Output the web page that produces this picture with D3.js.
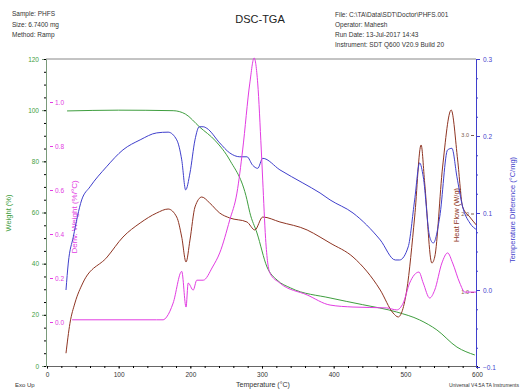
<!DOCTYPE html>
<html>
<head>
<meta charset="utf-8">
<script src="https://cdn.jsdelivr.net/npm/d3@7"></script>
<style>
  body { margin: 0; background: #fff; }
  svg { font-family: "Liberation Sans", Arial, sans-serif; }
</style>
</head>
<body>
<div id="chart"></div>
<script>
// [temperature °C, value]
const weight = [
  [28, 99.7], [100, 100], [176, 99.8], [193, 98.5], [213, 93.4], [235, 88], [255, 80.5],
  [279, 65], [283, 60], [293, 52], [307, 38.7], [321, 33.6], [340, 30.5], [395, 26.6],
  [440, 24], [488, 21.1], [520, 18], [544, 14.1], [572, 7.4], [597, 4.3]
];
const derivWeight = [
  [35, 0.01], [153, 0.01], [162, 0.01], [167, 0.023], [176, 0.086], [188, 0.23], [194, 0.068],
  [197, 0.177], [204, 0.145], [209, 0.19], [218, 0.19], [231, 0.25], [241, 0.314], [255, 0.464],
  [265, 0.586], [273, 0.782], [283, 1.086], [289, 1.2], [294, 1.086], [299, 0.782], [301, 0.645],
  [305, 0.38], [311, 0.223], [325, 0.177], [363, 0.123], [395, 0.077], [427, 0.068], [474, 0.064],
  [488, 0.055], [497, 0.086], [506, 0.177], [519, 0.227], [525, 0.177], [534, 0.109], [541, 0.145],
  [551, 0.268], [559, 0.314], [566, 0.268], [576, 0.177], [583, 0.136], [599, 0.136]
];
const tempDiff = [
  [26.5, 0.0], [29.7, 0.035], [36.7, 0.069], [48.4, 0.117], [60, 0.134], [83, 0.16], [106, 0.182],
  [130, 0.195], [153, 0.204], [169, 0.205], [181, 0.195], [188, 0.169], [193.5, 0.13], [199.5, 0.152],
  [206.5, 0.195], [212.5, 0.212], [218, 0.212], [223, 0.21], [241, 0.191], [255, 0.178], [269, 0.173],
  [279, 0.173], [287, 0.162], [294, 0.158], [301, 0.171], [325, 0.156], [357, 0.139], [381, 0.126],
  [395, 0.117], [427, 0.1], [465, 0.065], [486, 0.039], [492, 0.039], [504, 0.056], [513, 0.117],
  [520, 0.165], [525, 0.147], [534, 0.069], [539, 0.061], [548, 0.095], [559, 0.182], [565, 0.184],
  [572, 0.147], [580, 0.108], [590, 0.087], [600, 0.078]
];
const heatFlow = [
  [26.5, 0.22], [32, 0.6], [39, 0.86], [50, 1.115], [84, 1.446], [106, 1.7], [130, 1.879],
  [153, 2.006], [169, 2.057], [181, 1.955], [188, 1.7], [194, 1.382], [199.5, 1.662], [206.5, 2.083],
  [216, 2.21], [227, 2.134], [241, 2.006], [255, 1.943], [279, 1.892], [290, 1.79], [301, 1.955],
  [325, 1.892], [363, 1.79], [381, 1.7], [395, 1.624], [427, 1.446], [465, 1.025], [483, 0.732],
  [490, 0.682], [502, 1.025], [513, 1.955], [522, 2.873], [527, 2.389], [537, 1.369], [541, 1.446],
  [552, 2.592], [564, 3.318], [573, 2.682], [580, 2.083], [590, 1.955], [599, 1.854]
];

const xTicks = [0, 100, 200, 300, 400, 500, 600];
const weightTicks = [0, 20, 40, 60, 80, 100, 120];
const derivTicks = [0, 0.2, 0.4, 0.6, 0.8, 1.0];
const tempTicks = [-0.1, 0, 0.1, 0.2, 0.3];
const heatTicks = [1, 2, 3];

const headerLeft = ["Sample: PHFS", "Size:  6.7400 mg", "Method: Ramp"];
const headerRight = ["File: C:\\TA\\Data\\SDT\\Doctor\\PHFS.001", "Operator: Mahesh",
  "Run Date: 13-Jul-2017 14:43", "Instrument: SDT Q600 V20.9 Build 20"];

const width = 521, height = 390;
const green = "#3f9e3f", pink = "#e23ce2", blue = "#3f3fcc", brown = "#8e3422";

const svg = d3.select("#chart").append("svg")
  .attr("width", width).attr("height", height);

const x = d3.scaleLinear().domain([0, 600]).range([47, 477]);
const yW = d3.scaleLinear().domain([0, 120]).range([366, 59]);
const yD = d3.scaleLinear().domain([0, 1]).range([322, 102]);
const yT = d3.scaleLinear().domain([-0.1, 0.3]).range([367, 59]);
const yH = d3.scaleLinear().domain([1, 3]).range([292, 135]);

// header
svg.append("g").selectAll("text").data(headerLeft).join("text")
  .attr("x", 12).attr("y", (d, i) => 16 + i * 10.5)
  .style("font-size", "6.5px").attr("fill", "#333").text(d => d);
svg.append("g").selectAll("text").data(headerRight).join("text")
  .attr("x", 335).attr("y", (d, i) => 17 + i * 10)
  .style("font-size", "6.5px").attr("fill", "#333").text(d => d);
svg.append("text").attr("x", 260).attr("y", 23).attr("text-anchor", "middle")
  .style("font-size", "11px").attr("fill", "#222").text("DSC-TGA");

// frame top
svg.append("line").attr("x1", 46).attr("x2", 476).attr("y1", 59).attr("y2", 59)
  .attr("stroke", "#888").attr("stroke-width", 1);

// x axis
const xAxis = svg.append("g").attr("transform", "translate(0,366)")
  .call(d3.axisBottom(x).tickValues(xTicks).tickSize(3).tickFormat(d3.format("d")));
svg.append("g").attr("transform", "translate(0,366)")
  .call(d3.axisBottom(x).tickValues(d3.range(0, 601, 20)).tickSize(2).tickFormat(""))
  .call(g => g.select(".domain").remove());
xAxis.selectAll("text").style("font-size", "6.5px").attr("fill", "#333");
xAxis.selectAll("line, path").attr("stroke", "#666");
svg.append("text").attr("x", 263).attr("y", 387).attr("text-anchor", "middle")
  .style("font-size", "7px").attr("fill", "#333").text("Temperature (°C)");
svg.append("text").attr("x", 15).attr("y", 387)
  .style("font-size", "6px").attr("fill", "#333").text("Exo Up");
svg.append("text").attr("x", 519).attr("y", 387).attr("text-anchor", "end")
  .style("font-size", "5px").attr("fill", "#333").text("Universal V4.5A TA Instruments");

// weight axis (left)
const wAxis = svg.append("g").attr("transform", "translate(46,0)")
  .call(d3.axisLeft(yW).tickValues(weightTicks).tickSize(4));
svg.append("g").attr("transform", "translate(46,0)")
  .call(d3.axisLeft(yW).tickValues(d3.range(0, 121, 5)).tickSize(2).tickFormat(""))
  .call(g => g.select(".domain").remove());
wAxis.selectAll("text").style("font-size", "6.5px").attr("fill", green);
wAxis.selectAll("line, path").attr("stroke", "#7a9a7a");
svg.append("text").attr("transform", "translate(11,213) rotate(-90)").attr("text-anchor", "middle")
  .style("font-size", "7.5px").attr("fill", green).text("Weight (%)");

// deriv weight axis (inner left)
const dAxis = svg.append("g").attr("transform", "translate(50,0)")
  .call(d3.axisRight(yD).tickValues(derivTicks).tickSize(3).tickPadding(2).tickFormat(d3.format(".1f")))
  .call(g => g.select(".domain").remove());
dAxis.selectAll("text").style("font-size", "6.5px").attr("fill", pink);
dAxis.selectAll("line").attr("stroke", pink);
svg.append("text").attr("transform", "translate(77,217) rotate(-90)").attr("text-anchor", "middle")
  .style("font-size", "8px").attr("fill", pink).text("Deriv. Weight (%/°C)");

// temperature difference axis (right)
const tAxis = svg.append("g").attr("transform", "translate(476,0)")
  .call(d3.axisRight(yT).tickValues(tempTicks).tickSize(4).tickFormat(d3.format(".1f")));
svg.append("g").attr("transform", "translate(476,0)")
  .call(d3.axisRight(yT).tickValues(d3.range(-0.1, 0.301, 0.025)).tickSize(2).tickFormat(""))
  .call(g => g.select(".domain").remove())
  .selectAll("line").attr("stroke", blue);
tAxis.selectAll("text").style("font-size", "6.5px").attr("fill", blue);
tAxis.selectAll("line, path").attr("stroke", blue);
svg.append("text").attr("transform", "translate(515,210) rotate(-90)").attr("text-anchor", "middle")
  .style("font-size", "7.5px").attr("fill", blue).text("Temperature Difference (°C/mg)");

// heat flow axis (inner right)
const hAxis = svg.append("g").attr("transform", "translate(474,0)")
  .call(d3.axisLeft(yH).tickValues(heatTicks).tickSize(3).tickPadding(2))
  .call(g => g.select(".domain").remove());
hAxis.selectAll("text").style("font-size", "5.5px").attr("fill", "#7a5a4a");
hAxis.selectAll("line").attr("stroke", "#7a5a4a");
svg.append("text").attr("transform", "translate(459,215) rotate(-90)").attr("text-anchor", "middle")
  .style("font-size", "7.5px").attr("fill", brown).text("Heat Flow (W/g)");

// curves
const draw = (data, yScale, color) => svg.append("path")
  .datum(data)
  .attr("fill", "none").attr("stroke", color).attr("stroke-width", 1)
  .attr("d", d3.line().x(d => x(d[0])).y(d => yScale(d[1])).curve(d3.curveMonotoneX));

draw(weight, yW, green);
draw(heatFlow, yH, brown);
draw(tempDiff, yT, blue);
draw(derivWeight, yD, pink);
</script>
</body>
</html>
